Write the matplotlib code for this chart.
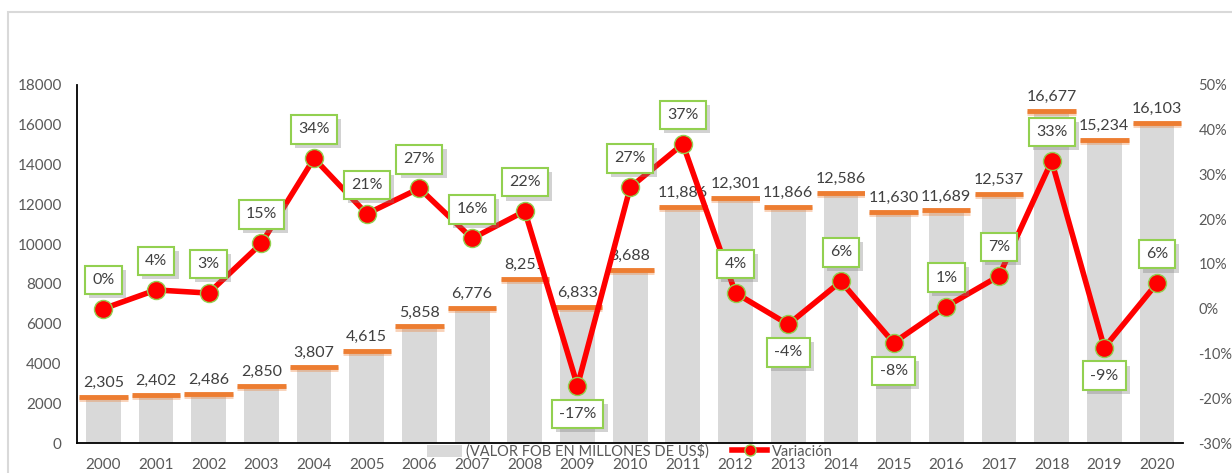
import matplotlib
matplotlib.use("Agg")
import matplotlib.pyplot as plt
import matplotlib.patheffects as pe
from matplotlib.patches import Rectangle
from matplotlib.lines import Line2D
from matplotlib.patches import Patch
import numpy as np

plt.rcParams['font.family'] = ['Lato', 'DejaVu Sans']

years = [str(y) for y in range(2000, 2021)]
valor_fob = [2305, 2402, 2486, 2850, 3807, 4615, 5858, 6776, 8251, 6833, 8688,
             11886, 12301, 11866, 12586, 11630, 11689, 12537, 16677, 15234, 16103]
variacion = [0.0, 4.2, 3.5, 14.6, 33.6, 21.2, 26.9, 15.7, 21.8, -17.2, 27.1,
             36.8, 3.5, -3.5, 6.1, -7.6, 0.5, 7.3, 33.0, -8.7, 5.7]
variacion_labels = ["0%", "4%", "3%", "15%", "34%", "21%", "27%", "16%", "22%", "-17%", "27%",
                    "37%", "4%", "-4%", "6%", "-8%", "1%", "7%", "33%", "-9%", "6%"]
label_below = [False, False, False, False, False, False, False, False, False, True, False,
               False, False, True, False, True, False, False, False, True, False]
left_ticks = list(range(0, 18001, 2000))
right_ticks = list(range(-30, 51, 10))

GREY_BAR = '#D9D9D9'
ORANGE = '#ED7D31'
RED = '#FF0000'
GREEN = '#92D050'
TXT = '#595959'

fig = plt.figure(figsize=(12.32, 4.73), dpi=100)
ax = fig.add_axes([0.0625, 0.0634, 0.898, 0.757])
x = np.arange(len(years))

ax.bar(x, valor_fob, width=0.66, color=GREY_BAR, zorder=1)
ax.set_xlim(-0.5, len(years) - 0.5)
ax.set_ylim(0, 18000)
ax.set_yticks(left_ticks)
ax.set_yticklabels([str(t) for t in left_ticks])
ax.set_xticks(x)
ax.set_xticklabels(years)
ax.tick_params(axis='both', length=0, colors=TXT, labelsize=11)
ax.tick_params(axis='x', pad=10.5)
ax.tick_params(axis='y', pad=11)
for s in ['top', 'right']:
    ax.spines[s].set_visible(False)
ax.spines['left'].set_color('black')
ax.spines['bottom'].set_color('black')
ax.spines['left'].set_linewidth(1.3)
ax.spines['bottom'].set_linewidth(1.3)

# orange underline of value labels
ax.hlines(valor_fob, x - 0.46, x + 0.46, color=ORANGE, lw=3.5, zorder=2,
          path_effects=[pe.SimpleLineShadow(offset=(0, -1.5), shadow_color=ORANGE, alpha=0.35),
                        pe.Normal()])
for xi, v in zip(x, valor_fob):
    ax.annotate(f"{v:,}", xy=(xi, v), xytext=(0, 5), textcoords='offset points',
                ha='center', va='bottom', fontsize=11.5, color='#404040', zorder=3,
                annotation_clip=False,
                bbox=dict(boxstyle='square,pad=0.2', fc='white', ec='none'))

ax2 = ax.twinx()
ax2.set_ylim(-30, 50)
ax2.set_yticks(right_ticks)
ax2.set_yticklabels([f"{t}%" for t in right_ticks])
ax2.tick_params(axis='y', length=0, colors=TXT, labelsize=10.5, pad=11)
for s in ['top', 'right', 'left', 'bottom']:
    ax2.spines[s].set_visible(False)

ax2.plot(x, variacion, color=RED, lw=4, marker='o', markersize=13,
         markerfacecolor=RED, markeredgecolor=GREEN, markeredgewidth=1, zorder=4)

for xi, v, lab, below in zip(x, variacion, variacion_labels, label_below):
    off = -28 if below else 29
    t = ax2.annotate(lab, xy=(xi, v), xytext=(0, off), textcoords='offset pixels',
                     ha='center', va='center', fontsize=11.5, color='#404040', zorder=6,
                     annotation_clip=False,
                     bbox=dict(boxstyle='square,pad=0.45', fc='white', ec=GREEN, lw=1.5))
    t.get_bbox_patch().set_path_effects([
        pe.SimplePatchShadow(offset=(3, -3), shadow_rgbFace='#7F7F7F', alpha=0.35),
        pe.Normal()])

handles = [Patch(facecolor=GREY_BAR, edgecolor='none'),
           Line2D([0], [0], color=RED, lw=4, marker='o', markersize=8,
                  markerfacecolor=RED, markeredgecolor=GREEN)]
fig.legend(handles, ["(VALOR FOB EN MILLONES DE US$)", "Variación"],
           loc='center', bbox_to_anchor=(0.511, 0.046), ncol=2, frameon=False,
           fontsize=10.5, labelcolor=TXT, handlelength=2.4, handleheight=0.9,
           columnspacing=1.6, handletextpad=0.3, borderpad=0)

# outer chart border
fig.patches.append(Rectangle((8 / 1232, -0.2), 1.2, 1.2 - 12 / 473,
                             transform=fig.transFigure, fill=False,
                             ec='#D9D9D9', lw=1.5, zorder=0))

fig.savefig("out.png", dpi=100)
